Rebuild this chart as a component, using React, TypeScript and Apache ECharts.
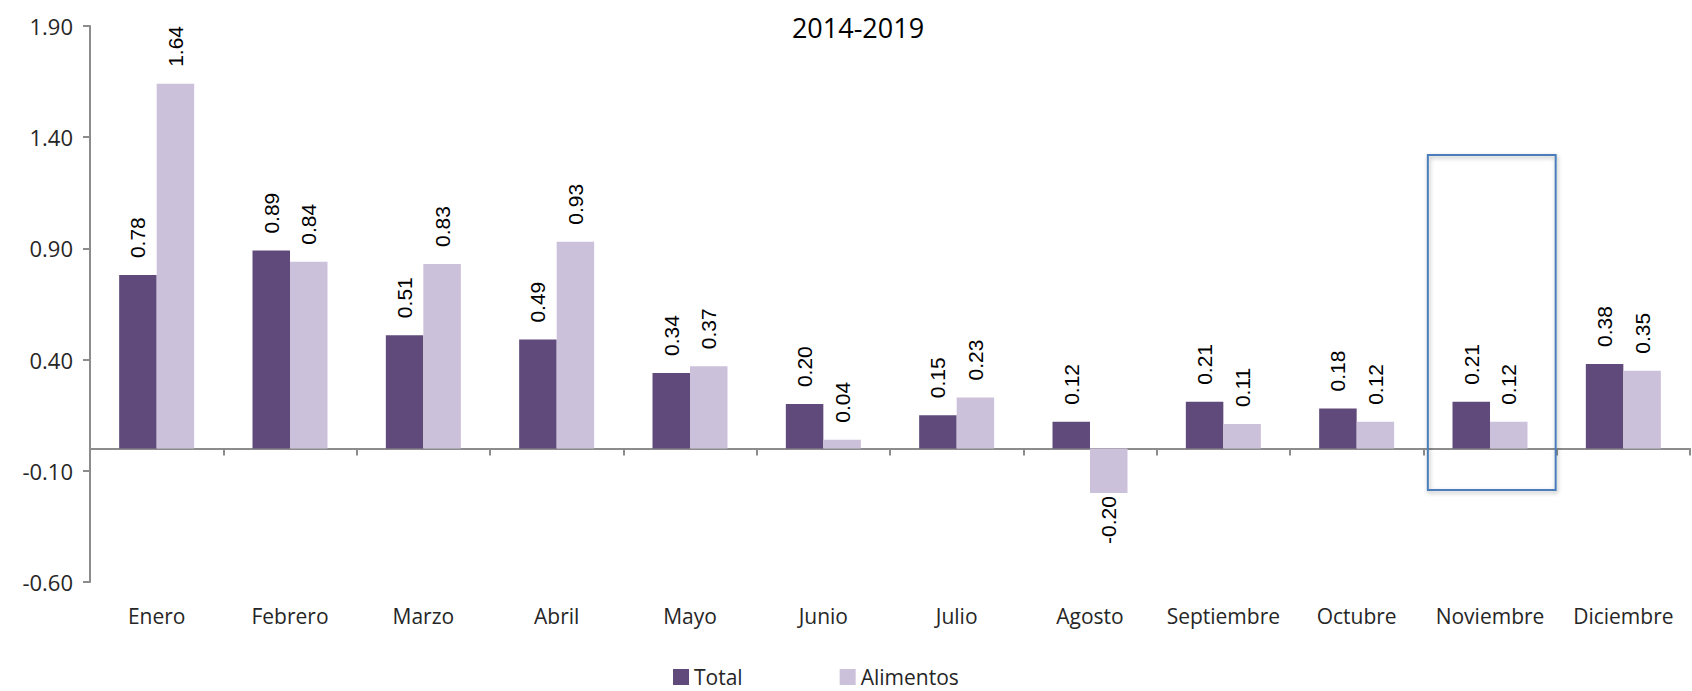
import React, { useEffect, useRef } from "react";
import * as echarts from "echarts";

const categories = ["Enero", "Febrero", "Marzo", "Abril", "Mayo", "Junio", "Julio", "Agosto", "Septiembre", "Octubre", "Noviembre", "Diciembre"];
const totalValues = [0.78, 0.89, 0.51, 0.49, 0.34, 0.20, 0.15, 0.12, 0.21, 0.18, 0.21, 0.38];
const alimentosValues = [1.64, 0.84, 0.83, 0.93, 0.37, 0.04, 0.23, -0.20, 0.11, 0.12, 0.12, 0.35];
const yTicks = [-0.6, -0.1, 0.4, 0.9, 1.4, 1.9];
const titleText = "2014-2019";
const highlightCategory = "Noviembre";
const highlightRange = [-0.186, 1.32];

const AXIS_FONT = "'Segoe UI', 'Open Sans', 'Noto Sans', sans-serif";
const LABEL_FONT = "Arial, 'Liberation Sans', sans-serif";

function toData(values: number[]) {
  return values.map((v) => ({
    value: v,
    label:
      v >= 0
        ? { position: "top", rotate: 90, align: "left", verticalAlign: "middle", distance: 17 }
        : { position: "bottom", rotate: 90, align: "right", verticalAlign: "middle", distance: 3 },
  }));
}

export default function App() {
  const ref = useRef<HTMLDivElement>(null);
  useEffect(() => {
    if (!ref.current) return;
    const chart = echarts.init(ref.current, undefined, { renderer: "svg" });
    const labelStyle = {
      show: true,
      fontSize: 21,
      fontFamily: LABEL_FONT,
      color: "#000",
      formatter: (p: any) => Number(p.value).toFixed(2),
    };
    chart.setOption({
      animation: false,
      backgroundColor: "#fff",
      title: {
        text: titleText,
        left: 853,
        top: 9,
        textAlign: "center",
        textStyle: { fontSize: 27, fontWeight: "normal", color: "#000", fontFamily: AXIS_FONT },
      },
      legend: {
        left: 673,
        top: 666,
        padding: 0,
        itemWidth: 16,
        itemHeight: 16,
        itemGap: 97,
        icon: "rect",
        textStyle: { fontSize: 21, lineHeight: 22, color: "#262626", fontFamily: AXIS_FONT },
        data: ["Total", "Alimentos"],
      },
      grid: { left: 90, right: 2, top: 26, bottom: 109, outerBoundsMode: "none", containLabel: false },
      xAxis: [
        {
          type: "category",
          data: categories,
          axisLine: { onZero: true, lineStyle: { color: "#8c8c8c", width: 2 } },
          axisTick: { show: true, length: 7, interval: 0, lineStyle: { color: "#8c8c8c", width: 2 } },
          axisLabel: { show: false },
          splitLine: { show: false },
        },
        {
          type: "category",
          data: categories,
          position: "bottom",
          axisLine: { show: false, onZero: false },
          axisTick: { show: false },
          axisLabel: { show: true, interval: 0, margin: 23, fontSize: 21, color: "#262626", fontFamily: AXIS_FONT },
          splitLine: { show: false },
        },
      ],
      yAxis: {
        type: "value",
        min: -0.6,
        max: 1.9,
        axisLine: { show: true, lineStyle: { color: "#8c8c8c", width: 2 } },
        axisTick: { show: true, length: 7, customValues: yTicks, lineStyle: { color: "#8c8c8c", width: 2 } },
        axisLabel: {
          show: true,
          margin: 17,
          fontSize: 22,
          color: "#262626",
          fontFamily: AXIS_FONT,
          customValues: yTicks,
          formatter: (v: number) => v.toFixed(2),
        },
        splitLine: { show: false },
      },
      series: [
        {
          name: "Total",
          type: "bar",
          xAxisIndex: 0,
          data: toData(totalValues),
          barWidth: 37.5,
          barGap: "0%",
          itemStyle: { color: "#604A7B" },
          label: labelStyle,
        },
        {
          name: "Alimentos",
          type: "bar",
          xAxisIndex: 0,
          data: toData(alimentosValues),
          barWidth: 37.5,
          barGap: "0%",
          itemStyle: { color: "#CCC1DA" },
          label: labelStyle,
        },
      ],
    });

    const idx = categories.indexOf(highlightCategory);
    const xc = chart.convertToPixel({ xAxisIndex: 0 }, idx) as number;
    const xn = chart.convertToPixel({ xAxisIndex: 0 }, idx + 1 < categories.length ? idx + 1 : idx - 1) as number;
    const band = Math.abs(xn - xc);
    const yTop = chart.convertToPixel({ yAxisIndex: 0 }, highlightRange[1]) as number;
    const yBot = chart.convertToPixel({ yAxisIndex: 0 }, highlightRange[0]) as number;
    chart.setOption({
      graphic: [
        {
          type: "rect",
          shape: { x: xc - band / 2 + 4.5, y: yTop, width: band - 5.5, height: yBot - yTop },
          style: {
            fill: "none",
            stroke: "#4A7EBB",
            lineWidth: 2,
            shadowBlur: 4,
            shadowColor: "rgba(0,0,0,0.3)",
            shadowOffsetX: 1,
            shadowOffsetY: 2,
          },
          z: 100,
        },
      ],
    });

    return () => chart.dispose();
  }, []);
  return <div ref={ref} style={{ position: "fixed", left: 0, top: 0, width: 1692, height: 691 }} />;
}
